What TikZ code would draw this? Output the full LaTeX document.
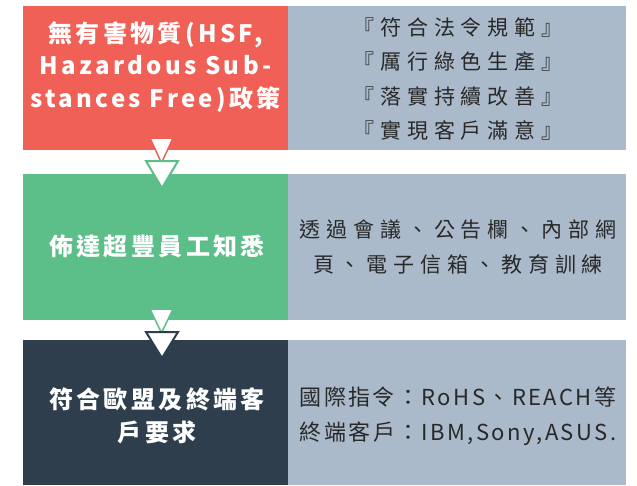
\documentclass[tikz,border=0pt]{standalone}
\usepackage{fontspec}
\setmainfont{Noto Sans CJK TC}
\newfontfamily\cjkL[LetterSpace=14]{Noto Sans CJK TC}
\newfontfamily\cjkR[LetterSpace=28]{Noto Sans CJK TC}
\newfontfamily\cjkS[LetterSpace=11]{Noto Sans CJK TC}
\definecolor{hsfred}{RGB}{241,96,87}
\definecolor{hsfgreen}{RGB}{92,190,137}
\definecolor{hsfdark}{RGB}{46,62,76}
\definecolor{hsfgray}{RGB}{170,186,202}
\definecolor{txtgray}{RGB}{40,40,40}
\tikzset{
  box/.style={rectangle, inner sep=0pt, outer sep=0pt, draw=none},
  lefttxt/.style={align=center, text=white, inner sep=0pt, font={\cjkL\bfseries\fontsize{24}{32.5}\selectfont}},
  righttxt/.style={align=center, text=txtgray, inner sep=0pt, font={\cjkR\fontsize{21}{34.5}\selectfont}},
  tri/.style={fill=white, line join=miter},
}
\begin{document}
\begin{tikzpicture}[x=1pt,y=-1pt]
\useasboundingbox (0,0) rectangle (637,485);
% boxes
\node[box,fill=hsfred,minimum width=265pt,minimum height=144pt] (b1) at (155.5,78) {};
\node[box,fill=hsfgray,minimum width=338pt,minimum height=144pt] (g1) at (457,78) {};
\node[box,fill=hsfgreen,minimum width=265pt,minimum height=146pt] (b2) at (155.5,247) {};
\node[box,fill=hsfgray,minimum width=338pt,minimum height=146pt] (g2) at (457,247) {};
\node[box,fill=hsfdark,minimum width=265pt,minimum height=145pt] (b3) at (155.5,412.5) {};
\node[box,fill=hsfgray,minimum width=338pt,minimum height=145pt] (g3) at (457,412.5) {};
% arrows
\draw[tri,draw=hsfred,line width=1.5pt] (150,138) -- (173,138) -- (161.5,163) -- cycle;
\draw[tri,draw=hsfgreen,line width=2pt] (146,161) -- (178,161) -- (162,188) -- cycle;
\draw[tri,draw=hsfgreen,line width=1.5pt] (150,309) -- (173,309) -- (161.5,333) -- cycle;
\draw[tri,draw=hsfdark,line width=2pt] (146,332) -- (178,332) -- (162,358) -- cycle;
% texts
\node[lefttxt] (t1) at (155.5,67) {無有害物質(HSF,\\Hazardous Sub-\\stances Free)政策};
\node[lefttxt] (t2) at (157,246) {佈達超豐員工知悉};
\node[lefttxt] (t3) at (157,416) {符合歐盟及終端客\\戶要求};
\node[righttxt] (r1) at (458,79) {『符合法令規範』\\『厲行綠色生產』\\『落實持續改善』\\『實現客戶滿意』};
\node[righttxt] (r2) at (458,247) {透過會議、公告欄、內部網\\頁、電子信箱、教育訓練};
\node[righttxt,font={\cjkS\fontsize{22}{35}\selectfont}] (r3) at (458,416) {國際指令：RoHS、REACH等\\終端客戶：IBM,Sony,ASUS.};
\end{tikzpicture}
\end{document}
